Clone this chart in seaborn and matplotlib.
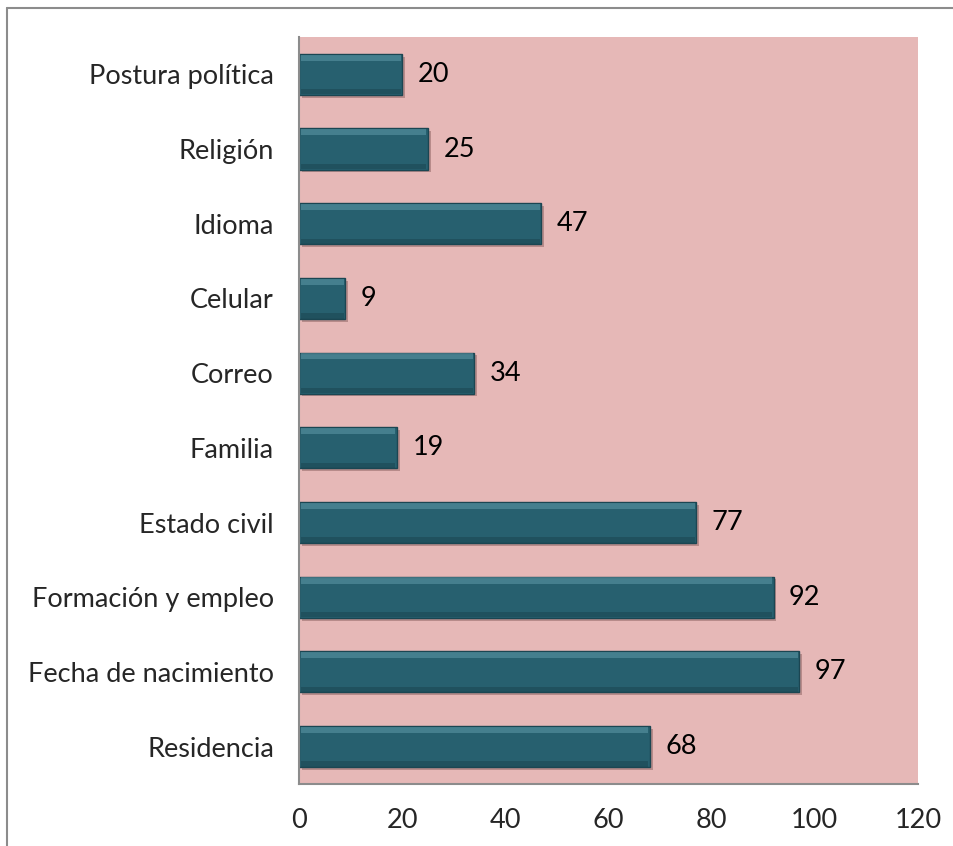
import seaborn as sns
import matplotlib.pyplot as plt
import matplotlib.patheffects as pe
from matplotlib.lines import Line2D
from matplotlib.patches import Rectangle
import pandas as pd

# --- Data (top to bottom as shown) ---
categories = ["Postura política", "Religión", "Idioma", "Celular", "Correo",
              "Familia", "Estado civil", "Formación y empleo",
              "Fecha de nacimiento", "Residencia"]
values = [20, 25, 47, 9, 34, 19, 77, 92, 97, 68]
x_ticks = [0, 20, 40, 60, 80, 100, 120]

df = pd.DataFrame({"categoria": categories, "valor": values})

sns.set_style("white")
plt.rcParams["font.family"] = ["Lato", "DejaVu Sans"]

fig = plt.figure(figsize=(9.54, 8.46), dpi=100)
ax = fig.add_axes([0.3134, 0.0733, 0.6489, 0.883])

ax = sns.barplot(data=df, x="valor", y="categoria", orient="h",
                 color="#27606F", width=0.55, edgecolor="#1B4652",
                 linewidth=1.0, saturation=1, ax=ax)

bars = list(ax.patches)
for p in bars:
    p.set_path_effects([pe.SimplePatchShadow(offset=(2, -2), shadow_rgbFace="#8a5f5e", alpha=0.5),
                        pe.Normal()])
    # soft bevel: lighter band on top, darker band on bottom
    x0, y0 = p.get_x(), p.get_y()
    w, h = p.get_width(), p.get_height()
    ax.add_patch(Rectangle((x0 + 0.3, y0 + 0.01), w - 0.6, h * 0.15,
                           facecolor="#6AA5B4", edgecolor="none", alpha=0.45, zorder=3))
    ax.add_patch(Rectangle((x0 + 0.3, y0 + h * 0.86), w - 0.6, h * 0.13,
                           facecolor="#143640", edgecolor="none", alpha=0.35, zorder=3))

# value labels
for i, v in enumerate(values):
    ax.text(v + 3.0, i, str(v), va="center", ha="left", fontsize=19.5, color="black")

ax.set_facecolor("#E6B8B7")
ax.set_xlim(0, 120)
ax.set_xticks(x_ticks)
ax.set_xticklabels([str(t) for t in x_ticks], fontsize=19.5)
ax.tick_params(axis="y", labelsize=19.5, length=0, pad=18)
ax.tick_params(axis="x", length=0, pad=17)
ax.set_xlabel("")
ax.set_ylabel("")

for side in ["top", "right"]:
    ax.spines[side].set_visible(False)
for side in ["left", "bottom"]:
    ax.spines[side].set_color("#8C8C8C")
    ax.spines[side].set_linewidth(1.5)

# outer chart frame (left and top edges)
fig.add_artist(Line2D([0.0078, 0.0078], [0, 0.9905], transform=fig.transFigure,
                      color="#8C8C8C", lw=1.5))
fig.add_artist(Line2D([0.0078, 1.0], [0.9905, 0.9905], transform=fig.transFigure,
                      color="#8C8C8C", lw=1.5))

plt.savefig("out.png", dpi=100)
